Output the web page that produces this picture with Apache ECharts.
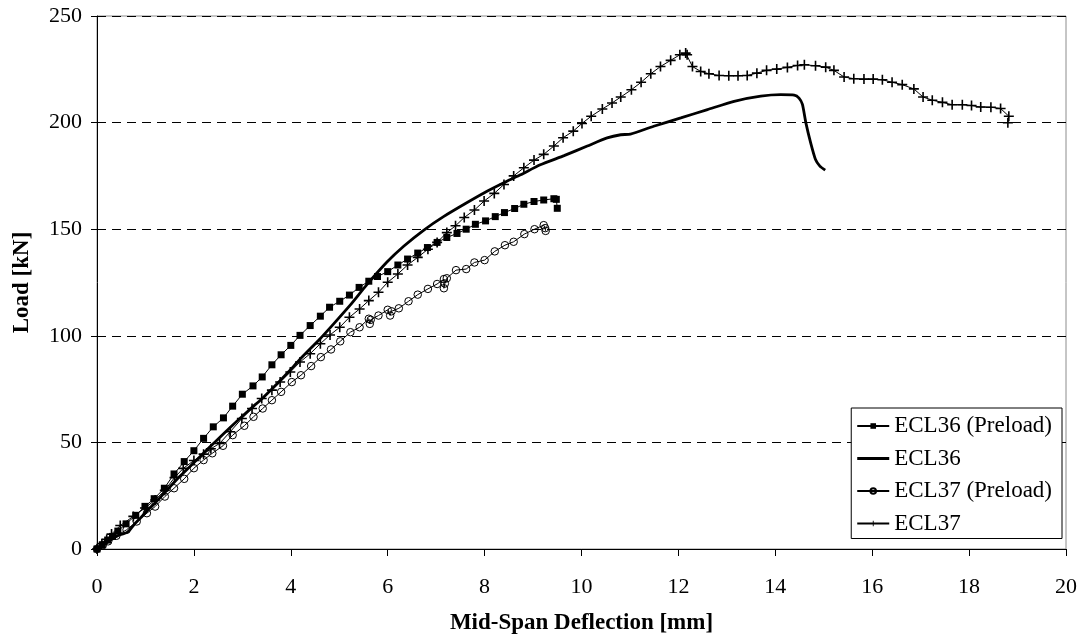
<!DOCTYPE html>
<html>
<head>
<meta charset="utf-8">
<script src="https://cdn.jsdelivr.net/npm/echarts@6/dist/echarts.min.js"></script>
<style>
  html, body { margin: 0; padding: 0; background: #fff; }
  #chart { width: 1088px; height: 640px; }
</style>
</head>
<body>
<div id="chart"></div>
<script>
// Load–deflection curves, [deflection mm, load kN]
const seriesNames = ['ECL36 (Preload)', 'ECL36', 'ECL37 (Preload)', 'ECL37'];

const ecl36Preload = [
  [0,0],[0.11,2.0],[0.22,4.2],[0.32,5.9],[0.43,8.4],[0.6,11.8],[0.8,15.8],[0.99,20.0],[1.18,23.6],
  [1.39,28.5],[1.59,35.2],[1.80,41.0],[2.00,46.1],[2.20,51.9],[2.40,57.3],[2.61,61.5],[2.80,67.0],
  [3.00,72.6],[3.22,76.5],[3.41,80.7],[3.61,86.4],[3.80,91.1],[4.00,95.5],[4.19,100.2],[4.40,104.8],
  [4.61,109.2],[4.80,113.4],[5.01,116.2],[5.21,119.1],[5.41,122.7],[5.61,125.6],[5.79,127.8],
  [6.00,130.1],[6.21,133.2],[6.41,136.0],[6.62,138.8],[6.82,141.4],[7.02,143.8],[7.22,146.1],
  [7.43,148.0],[7.62,150.0],[7.81,152.3],[8.02,153.9],[8.22,155.9],[8.41,157.8],[8.62,159.7],
  [8.81,161.7],[9.02,163.0],[9.22,163.7],[9.43,164.3],[9.48,164.0],[9.50,159.8]
];

const ecl36 = [
  [0,0],[0.15,2.2],[0.27,4.0],[0.38,5.6],[0.46,6.6],[0.55,7.2],[0.62,7.8],[0.68,9.0],[0.78,11.8],
  [0.9,14.6],[1.06,18.6],[1.2,21.6],[1.4,26.5],[1.68,33.4],[1.96,39.6],[2.3,47.2],[2.71,56.2],
  [3.13,65.0],[3.40,70.4],[3.61,75.0],[3.95,83.0],[4.19,89.0],[4.6,98.5],[4.88,105.5],
  [5.23,114.5],[5.57,124.0],[5.98,134.5],[6.33,142.0],[6.74,149.5],[7.16,156.0],[7.64,162.5],
  [8.05,167.8],[8.46,172.5],[8.74,175.5],[9.15,180.2],[9.64,184.5],[10.12,189.0],[10.53,192.8],
  [10.81,194.3],[11.01,194.6],[11.49,198.3],[12.05,202.2],[12.6,206.1],[13.15,210.0],[13.7,212.4],
  [14.11,213.1],[14.39,212.9],[14.49,211.5],[14.56,208.5],[14.63,200.0],[14.73,190.5],[14.83,182.7],
  [14.92,179.6],[15.03,177.7]
];

const ecl37Preload = [
  [0,0],[0.12,1.8],[0.23,3.6],[0.4,6.2],[0.61,9.0],[0.82,12.9],[1.03,16.8],[1.20,19.9],[1.40,24.6],
  [1.59,28.5],[1.80,32.9],[2.00,37.9],[2.20,41.7],[2.38,44.9],[2.60,48.4],[2.80,53.4],[3.04,57.8],
  [3.23,62.0],[3.42,65.9],[3.61,69.8],[3.80,73.7],[4.02,78.3],[4.21,81.5],[4.42,85.8],[4.62,90.0],
  [4.83,93.6],[5.02,97.4],[5.23,101.7],[5.42,104.0],[5.61,108.0],[5.63,105.6],[5.65,107.5],
  [5.81,109.5],[6.00,112.2],[6.05,109.5],[6.08,111.5],[6.23,112.9],[6.43,116.2],[6.62,119.3],
  [6.83,122.0],[7.02,124.3],[7.16,126.6],[7.16,122.3],[7.18,124.5],[7.22,127.0],[7.41,130.8],
  [7.62,131.3],[7.79,134.4],[8.00,135.5],[8.21,139.6],[8.42,142.5],[8.60,144.1],[8.82,147.7],
  [9.03,150.0],[9.22,151.9],[9.25,150.5],[9.26,149.2]
];

const ecl37 = [
  [0,0],[0.1,2.5],[0.2,4.5],[0.3,7.0],[0.48,11.0],[0.75,15.3],[0.99,19.2],[1.2,23.0],[1.4,27.5],
  [1.6,33.5],[1.78,37.8],[2.0,41.5],[2.2,44.5],[2.35,47.0],[2.53,49.5],[2.75,55.0],[2.99,61.2],
  [3.20,65.9],[3.40,70.6],[3.61,74.5],[3.78,78.3],[3.99,83.0],[4.19,87.7],[4.40,91.6],[4.61,96.3],
  [4.81,100.4],[5.01,104.0],[5.21,108.7],[5.42,112.6],[5.61,116.5],[5.81,120.4],[6.00,125.1],
  [6.21,129.0],[6.41,133.2],[6.62,136.8],[6.83,140.6],[7.02,143.8],[7.22,148.4],[7.40,151.6],
  [7.58,155.5],[7.79,159.0],[7.99,163.2],[8.20,166.8],[8.40,171.0],[8.60,175.0],[8.81,178.8],
  [9.02,182.4],[9.22,185.1],[9.43,189.0],[9.62,192.9],[9.83,196.0],[10.01,199.6],[10.20,203.0],
  [10.43,206.4],[10.63,209.2],[10.81,212.0],[11.03,215.4],[11.23,218.9],[11.43,222.9],[11.63,226.3],
  [11.84,229.2],[12.03,231.8],[12.15,232.6],[12.18,231.8],[12.29,226.3],[12.46,224.0],[12.63,222.9],
  [12.84,222.1],[13.04,222.0],[13.23,222.0],[13.42,222.1],[13.62,223.2],[13.82,224.5],[14.03,225.1],
  [14.25,225.9],[14.46,226.8],[14.60,227.1],[14.83,226.7],[15.04,226.0],[15.21,224.5],[15.42,221.4],
  [15.62,220.6],[15.83,220.4],[16.02,220.4],[16.21,220.1],[16.41,218.9],[16.62,217.8],[16.86,215.8],
  [17.05,212.0],[17.24,210.5],[17.45,209.5],[17.65,208.4],[17.86,208.4],[18.05,208.0],[18.24,207.3],
  [18.45,207.2],[18.65,206.6],[18.82,203.0],[18.80,199.9]
];

const xTitle = 'Mid-Span Deflection [mm]';
const yTitle = 'Load [kN]';

const FONT = 'Liberation Serif';
// plus-shaped marker outline (filled)
const PLUS = 'path://M4.2,0H5.8V4.2H10V5.8H5.8V10H4.2V5.8H0V4.2H4.2Z';
// plain thick bar used as legend key for the unmarked curve
const THICK_KEY = 'path://M0,0H32V2.8H0Z';

const chart = echarts.init(document.getElementById('chart'), null, { renderer: 'canvas' });

chart.setOption({
  animation: false,
  backgroundColor: '#fff',
  textStyle: { fontFamily: FONT, color: '#000' },
  grid: {
    left: 97, right: 22, top: 16, bottom: 89,
    show: true, borderColor: '#8c8c8c', borderWidth: 1, backgroundColor: '#fff'
  },
  legend: {
    orient: 'vertical',
    right: 26, top: 408,
    padding: [6, 10, 3, 5],
    itemWidth: 32, itemHeight: 7, itemGap: 8.5,
    backgroundColor: '#fff', borderColor: '#000', borderWidth: 1,
    textStyle: { fontFamily: FONT, fontSize: 23, color: '#000', lineHeight: 24 },
    data: [
      { name: seriesNames[0] },
      { name: seriesNames[1], icon: THICK_KEY },
      { name: seriesNames[2] },
      { name: seriesNames[3] }
    ]
  },
  xAxis: {
    type: 'value', min: 0, max: 20, interval: 2,
    name: xTitle, nameLocation: 'middle', nameGap: 63,
    nameTextStyle: { fontFamily: FONT, fontSize: 23, fontWeight: 'bold', color: '#000' },
    axisLine: { lineStyle: { color: '#000', width: 1 } },
    axisTick: { show: true, length: 7, lineStyle: { color: '#000' } },
    axisLabel: { fontFamily: FONT, fontSize: 22, color: '#000', margin: 27 },
    splitLine: { show: false }
  },
  yAxis: {
    type: 'value', min: 0, max: 250, interval: 50,
    name: yTitle, nameLocation: 'middle', nameGap: 63, nameRotate: 90,
    nameTextStyle: { fontFamily: FONT, fontSize: 23, fontWeight: 'bold', color: '#000' },
    axisLine: { show: true, lineStyle: { color: '#000', width: 1 } },
    axisTick: { show: true, length: 6, lineStyle: { color: '#000' } },
    axisLabel: { fontFamily: FONT, fontSize: 22, color: '#000', margin: 15 },
    splitLine: { show: true, lineStyle: { color: '#000', width: 1, type: [9, 6] } }
  },
  series: [
    {
      name: seriesNames[0], type: 'line', data: ecl36Preload,
      showSymbol: true, showAllSymbol: true,
      symbol: 'rect', symbolSize: 7,
      itemStyle: { color: '#000' },
      lineStyle: { color: '#000', width: 1 }
    },
    {
      name: seriesNames[1], type: 'line', data: ecl36,
      showSymbol: false, symbol: 'none', smooth: 0.2,
      itemStyle: { color: '#000' },
      lineStyle: { color: '#000', width: 2.8 }
    },
    {
      name: seriesNames[2], type: 'line', data: ecl37Preload,
      showSymbol: true, showAllSymbol: true,
      symbol: 'circle', symbolSize: 7.5,
      itemStyle: { color: 'rgba(255,255,255,0)', borderColor: '#000', borderWidth: 1 },
      lineStyle: { color: '#000', width: 1 }
    },
    {
      name: seriesNames[3], type: 'line', data: ecl37,
      showSymbol: true, showAllSymbol: true,
      symbol: PLUS, symbolSize: 10,
      itemStyle: { color: '#000' },
      lineStyle: { color: '#000', width: 1 }
    }
  ]
});
</script>
</body>
</html>
